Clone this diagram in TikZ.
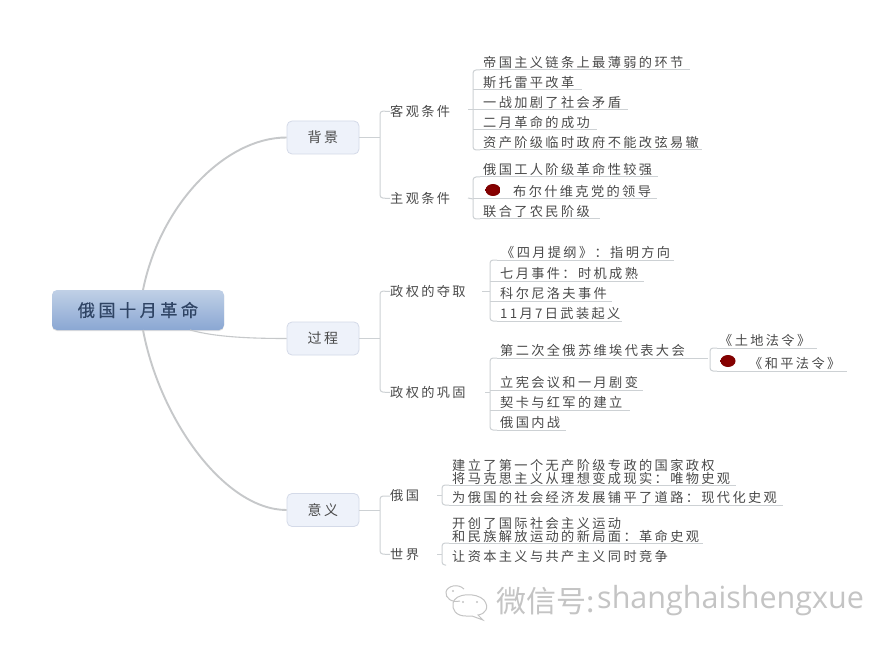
\documentclass[tikz,border=0pt]{standalone}
\usepackage{fontspec}
\setmainfont{Noto Sans CJK SC}
\newfontfamily\leaffont[LetterSpace=18]{Noto Sans CJK SC}
\newfontfamily\rootfont[LetterSpace=20,FakeBold=0.6]{Noto Sans CJK SC}
\newfontfamily\markfont{Noto Sans CJK SC}
\newfontfamily\marklatin{Open Sans}
\usetikzlibrary{shadows,shapes.geometric}
\definecolor{inkc}{HTML}{4A4A4A}
\definecolor{linec}{HTML}{CDD1D4}
\definecolor{curvec}{HTML}{C6C8CA}
\definecolor{boxc}{HTML}{EEF2FA}
\definecolor{boxl}{HTML}{D4DAE8}
\definecolor{wm}{HTML}{C4C4C4}
\definecolor{rootink}{HTML}{2F4464}
\definecolor{roottop}{HTML}{C0D0E6}
\definecolor{rootbot}{HTML}{8AA7D3}
\tikzset{
  leaf/.style={anchor=west,inner sep=0pt,text=inkc,font=\leaffont\fontsize{13.2}{13.5}\selectfont},
  leafstack/.style={leaf,align=left,font=\leaffont\fontsize{13.2}{13.5}\selectfont},
  rootbox/.style={draw=none,rounded corners=5pt,top color=roottop,bottom color=rootbot,minimum width=172pt,minimum height=40pt,inner sep=0pt,text=rootink,font=\rootfont\fontsize{17.2}{18}\selectfont,
     drop shadow={shadow xshift=0pt,shadow yshift=-1pt,opacity=.25}},
  mainbox/.style={draw=boxl,fill=boxc,rounded corners=5pt,line width=.8pt,minimum width=72pt,minimum height=33pt,inner sep=0pt,text=inkc,font=\leaffont\fontsize{14}{14}\selectfont},
  wire/.style={draw=linec,line width=1pt,rounded corners=3pt},
  uline/.style={draw=linec,line width=1pt},
  curve/.style={draw=curvec,line width=1.9pt},
  thincurve/.style={draw=curvec,line width=1.1pt},
  bullet/.style={ellipse,minimum width=15pt,minimum height=12pt,inner sep=0pt,inner color=red!55!black,outer color=red!50!black},
  wmtext/.style={anchor=west,inner sep=0pt,text=wm},
  wmline/.style={draw=wm,line width=1pt},
}
% name, x start of the rule, x end of the rule, y of the rule, x of text, text
\newcommand{\leafitem}[6]{%
  \coordinate (#1l) at (#2,#4);
  \coordinate (#1r) at (#3,#4);
  \node[leaf] (#1) at (#5,#4-7.5) {#6};
  \draw[uline] (#1l) -- (#1r);
}
\begin{document}
\begin{tikzpicture}[x=1pt,y=-1pt]
\useasboundingbox (0,0) rectangle (894,647);
\fill[white] (0,0) rectangle (894,647);

% root and main nodes
\node[rootbox] (root) at (138,310) {俄国十月革命};
\node[mainbox] (bj) at (323,137.5) {背景};
\node[mainbox] (gc) at (323,338.5) {过程};
\node[mainbox] (yy) at (323,510) {意义};

\coordinate (rt) at (143,290);
\coordinate (rb) at (143,330);
\coordinate (rr) at (190,330);
\draw[curve] (rt) .. controls (160,205) and (225,137.5) .. (bj.west);
\draw[thincurve] (rr) .. controls (215,337) and (250,338.5) .. (gc.west);
\draw[curve] (rb) .. controls (160,420) and (225,510) .. (yy.west);

% first-level labels
\node[leaf] (kg) at (390,111.5) {客观条件};
\node[leaf] (zg) at (390,198.5) {主观条件};
\node[leaf] (dq) at (390,291.5) {政权的夺取};
\node[leaf] (gg) at (390,392.5) {政权的巩固};
\node[leaf] (eg) at (390,496) {俄国};
\node[leaf] (sj) at (390,554.5) {世界};

% first-level brackets
\coordinate (hb) at (380,137.5);
\coordinate (hg) at (380,338.5);
\coordinate (hy) at (380,510);
\draw[uline] (bj.east) -- (hb);
\draw[uline] (gc.east) -- (hg);
\draw[uline] (yy.east) -- (hy);
\draw[wire] (kg.west) -- (380,111) -- (380,198) -- (zg.west);
\draw[wire] (dq.west) -- (380,291) -- (380,392) -- (gg.west);
\draw[wire] (eg.west) -- (380,496) -- (380,554) -- (sj.west);

% background leaves
\leafitem{a}{480}{690}{70}{483}{帝国主义链条上最薄弱的环节}
\leafitem{b}{473}{582}{90}{483}{斯托雷平改革}
\leafitem{c}{473}{628}{110}{483}{一战加剧了社会矛盾}
\leafitem{d}{473}{597}{130}{483}{二月革命的成功}
\leafitem{e}{480}{702}{150}{483}{资产阶级临时政府不能改弦易辙}
\draw[wire] (al) -- (473,70) -- (473,150) -- (el);
\coordinate (kgt) at (468,110);
\draw[uline] (kgt) -- (cl);

\leafitem{f}{480}{658}{177}{483}{俄国工人阶级革命性较强}
\leafitem{g}{473}{657}{199}{513}{布尔什维克党的领导}
\leafitem{h}{480}{600}{219}{483}{联合了农民阶级}
\node[bullet] (gb) at (493,190) {};
\draw[wire] (fl) -- (473,177) -- (473,219) -- (hl);
\coordinate (zgt) at (468,198);
\draw[uline] (zgt) -- (gl);

% process leaves
\leafitem{i}{497}{674}{260}{501}{《四月提纲》：指明方向}
\leafitem{j}{490}{644}{281}{500}{七月事件：时机成熟}
\leafitem{k}{490}{612}{301}{500}{科尔尼洛夫事件}
\leafitem{l}{497}{622}{321}{500}{11月7日武装起义}
\draw[wire] (il) -- (490,260) -- (490,321) -- (ll);
\coordinate (dqt) at (482,291);
\coordinate (dqh) at (490,291);
\draw[uline] (dqt) -- (dqh);

\leafitem{m}{497}{708}{358}{500}{第二次全俄苏维埃代表大会}
\leafitem{n}{490}{643}{390}{500}{立宪会议和一月剧变}
\leafitem{o}{490}{630}{410}{500}{契卡与红军的建立}
\leafitem{p}{497}{566}{430}{500}{俄国内战}
\draw[wire] (ml) -- (490,358) -- (490,430) -- (pl);
\coordinate (ggt) at (485,392);
\coordinate (ggh) at (490,392);
\draw[uline] (ggt) -- (ggh);

\leafitem{q}{717}{817}{348}{719}{《土地法令》}
\leafitem{r}{717}{847}{371}{749}{《和平法令》}
\node[bullet] (rb2) at (728,361) {};
\draw[wire] (ql) -- (710,348) -- (710,371) -- (rl);

% meaning leaves
\node[leafstack] (s) at (452,472) {建立了第一个无产阶级专政的国家政权\\将马克思主义从理想变成现实：唯物史观};
\coordinate (sl) at (449,485);
\coordinate (sr) at (736,485);
\draw[uline] (sl) -- (sr);
\leafitem{t}{449}{783}{505}{452}{为俄国的社会经济发展铺平了道路：现代化史观}
\draw[wire] (sl) -- (442,485) -- (442,505) -- (tl);
\coordinate (egt) at (437,495);
\coordinate (egh) at (442,495);
\draw[uline] (egt) -- (egh);

\node[leafstack] (u) at (452,530) {开创了国际社会主义运动\\和民族解放运动的新局面：革命史观};
\coordinate (ul) at (449,543);
\coordinate (ur) at (703,543);
\draw[uline] (ul) -- (ur);
\node[leaf] (v) at (452,556.5) {让资本主义与共产主义同时竞争};
\coordinate (vl) at (446,565);
\draw[wire] (ul) -- (442,543) -- (442,565) -- (vl);
\coordinate (sjt) at (437,554);
\coordinate (sjh) at (442,554);
\draw[uline] (sjt) -- (sjh);

% watermark
\node[wmtext] (wmc) at (496,601) {\markfont\fontsize{30}{30}\selectfont 微信号:};
\node[wmtext] (wml) at (597,601) {\marklatin\fontsize{30.5}{31}\selectfont shanghaishengxue};
\draw[wmline] (460,601) .. controls (452,603) and (445,598) .. (446,592) .. controls (447,586) and (458,583) .. (464,589);
\draw[wmline] (466,616) .. controls (456,616) and (452,610) .. (453,603) .. controls (455,593) and (476,592) .. (484,600) .. controls (490,608) and (485,614) .. (478,615) -- (483,620) -- (472,616) -- cycle;
\fill[wm] (463,602) circle (1.1pt) (477,602) circle (1.1pt) (453,591) circle (1.1pt);
\end{tikzpicture}
\end{document}
